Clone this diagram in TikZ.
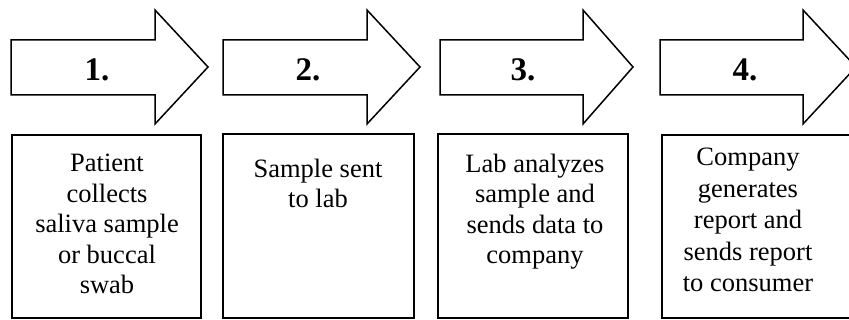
\documentclass[tikz,border=0pt]{standalone}
\usepackage{fontspec}
\setmainfont{Liberation Serif}
\begin{document}
\begin{tikzpicture}[x=1pt,y=-1pt,
  arrowshape/.style={draw=black,line width=1.5pt,fill=white,line join=miter},
  boxshape/.style={draw=black,line width=1.5pt,fill=white,rectangle,inner sep=0pt},
  numlabel/.style={font=\fontsize{33}{36}\selectfont\bfseries,anchor=base,inner sep=0pt},
  boxtext/.style={font=\fontsize{26.5}{30.5}\selectfont,align=center,anchor=base,inner sep=0pt}]
\useasboundingbox (0,0) rectangle (849,320);
\clip (0,0) rectangle (849,320);
% arrows
\draw[arrowshape] (11,40) -- (155,40) -- (155,10) -- (208,67) -- (155,124) -- (155,95) -- (11,95) -- cycle;
\draw[arrowshape] (223,40) -- (367,40) -- (367,10) -- (420,67) -- (367,124) -- (367,95) -- (223,95) -- cycle;
\draw[arrowshape] (440,40) -- (583,40) -- (583,10) -- (633,67) -- (583,124) -- (583,95) -- (440,95) -- cycle;
\draw[arrowshape] (660,40) -- (803,40) -- (803,10) -- (856,67) -- (803,124) -- (803,95) -- (660,95) -- cycle;
\node[numlabel] (n1) at (97,81) {1.};
\node[numlabel] (n2) at (308,81) {2.};
\node[numlabel] (n3) at (523,81) {3.};
\node[numlabel] (n4) at (745,81) {4.};
% boxes
\node[boxshape,minimum width=189pt,minimum height=183pt] (b1) at (106.5,226.5) {};
\node[boxshape,minimum width=191pt,minimum height=184pt] (b2) at (318.5,226) {};
\node[boxshape,minimum width=190pt,minimum height=184pt] (b3) at (533,226) {};
\node[boxshape,minimum width=200pt,minimum height=183pt] (b4) at (762,226.5) {};
\node[boxtext] (t1) at (107,294) {Patient\\collects\\saliva sample\\or buccal\\swab};
\node[boxtext] (t2) at (318,208) {Sample sent\\to lab};
\node[boxtext] (t3) at (535,264) {Lab analyzes\\sample and\\sends data to\\company};
\node[boxtext,font=\fontsize{26.5}{31.5}\selectfont] (t4) at (748,292) {Company\\generates\\report and\\sends report\\to consumer};
\end{tikzpicture}
\end{document}
